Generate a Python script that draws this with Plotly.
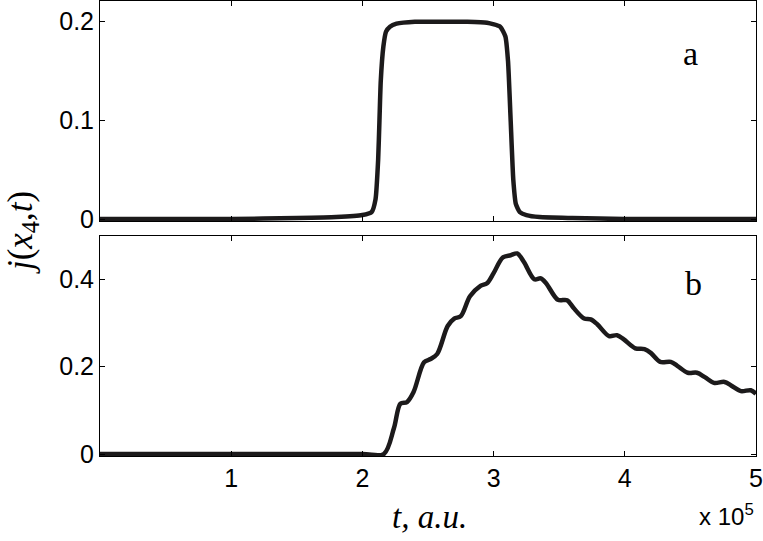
import plotly.graph_objects as go
from plotly.subplots import make_subplots

# time in units of 1e5 a.u.
t_a = [0, 1.0, 1.5, 1.8, 2.0, 2.07, 2.10, 2.12, 2.13, 2.14, 2.16, 2.18, 2.21, 2.26,
       2.4, 2.6, 2.8, 2.95, 3.05, 3.09, 3.11, 3.13, 3.15, 3.17, 3.20, 3.25, 3.35,
       3.6, 4.0, 5.0]
j_a = [0, 0, 0.001, 0.002, 0.004, 0.007, 0.02, 0.06, 0.10, 0.14, 0.175, 0.19,
       0.195, 0.198, 0.2, 0.2, 0.2, 0.199, 0.195, 0.185, 0.16, 0.10, 0.04, 0.015,
       0.007, 0.004, 0.002, 0.001, 0, 0]

t_b = [0, 1.0, 2.0, 2.163, 2.24, 2.29, 2.34, 2.39, 2.47, 2.52, 2.57, 2.65, 2.70,
       2.75, 2.82, 2.90, 2.95, 3.00, 3.07, 3.13, 3.18, 3.23, 3.31, 3.36, 3.40,
       3.49, 3.56, 3.61, 3.69, 3.74, 3.79, 3.88, 3.94, 3.99, 4.08, 4.15, 4.20,
       4.27, 4.35, 4.40, 4.48, 4.55, 4.61, 4.68, 4.76, 4.81, 4.885, 4.96, 5.0]
j_b = [0, 0, 0, 0, 0.059, 0.1155, 0.119, 0.142, 0.21, 0.2175, 0.229, 0.293, 0.31,
       0.3155, 0.361, 0.385, 0.391, 0.414, 0.45, 0.455, 0.459, 0.44, 0.40, 0.402,
       0.391, 0.353, 0.352, 0.334, 0.31, 0.308, 0.297, 0.27, 0.272, 0.263, 0.242,
       0.240, 0.231, 0.211, 0.211, 0.202, 0.186, 0.186, 0.176, 0.163, 0.165, 0.157,
       0.144, 0.146, 0.138]

x_ticks = [1, 2, 3, 4, 5]
y_ticks_a = [0, 0.1, 0.2]
y_ticks_b = [0, 0.2, 0.4]

SCALE = 1e5
INK = "#1c1a1b"

fig = make_subplots(rows=2, cols=1, shared_xaxes=False, vertical_spacing=0.033)

fig.add_trace(go.Scatter(x=[v * SCALE for v in t_a], y=j_a, mode="lines",
                         line=dict(color=INK, width=4.5, shape="spline", smoothing=0.5)),
              row=1, col=1)
fig.add_trace(go.Scatter(x=[v * SCALE for v in t_b], y=j_b, mode="lines",
                         line=dict(color=INK, width=4.5, shape="spline", smoothing=0.9)),
              row=2, col=1)

axis_common = dict(showline=True, linecolor="black", linewidth=1, mirror="allticks",
                   ticks="inside", ticklen=5, tickcolor="black", showgrid=False,
                   zeroline=False, automargin=False,
                   tickfont=dict(family="Liberation Sans", size=25, color="black"))

fig.update_xaxes(range=[0, 5 * SCALE], tickvals=[v * SCALE for v in x_ticks],
                 ticktext=[str(v) for v in x_ticks], **axis_common)
fig.update_xaxes(showticklabels=False, row=1, col=1)
fig.update_yaxes(**axis_common)
fig.update_yaxes(range=[-0.002, 0.221], tickvals=y_ticks_a,
                 ticktext=["0", "0.1", "0.2"], row=1, col=1)
fig.update_yaxes(range=[-0.0045, 0.499], tickvals=y_ticks_b,
                 ticktext=["0", "0.2", "0.4"], row=2, col=1)

serif = dict(family="Liberation Serif", color="black")
fig.add_annotation(x=4.5 * SCALE, y=0.168, xref="x", yref="y", text="a",
                   showarrow=False, font=dict(size=34, **serif))
fig.add_annotation(x=4.52 * SCALE, y=0.39, xref="x2", yref="y2", text="b",
                   showarrow=False, font=dict(size=34, **serif))
fig.add_annotation(x=-0.119, y=0.492, xref="paper", yref="paper", textangle=-90,
                   xanchor="center", yanchor="middle",
                   text="<i>j</i>(<i>x</i><sub>4</sub>,<i>t</i>)", showarrow=False,
                   font=dict(size=35, **serif))
fig.add_annotation(x=0.503, y=-0.134, xref="paper", yref="paper",
                   xanchor="center", yanchor="middle",
                   text="<i>t, a.u.</i>", showarrow=False, font=dict(size=33, **serif))
fig.add_annotation(x=1.0, y=-0.13, xref="paper", yref="paper",
                   xanchor="right", yanchor="middle",
                   text="x 10<sup>5</sup>", showarrow=False,
                   font=dict(family="Liberation Sans", size=24, color="black"))

fig.update_layout(width=763, height=541, showlegend=False,
                  margin=dict(l=100, r=7, t=1, b=85),
                  plot_bgcolor="white", paper_bgcolor="white")

# the page body has a default margin; drop it so the figure sits at the window corner
fig.write_html("out.html", config={"displayModeBar": False},
               post_script="document.body.style.margin='0';")
